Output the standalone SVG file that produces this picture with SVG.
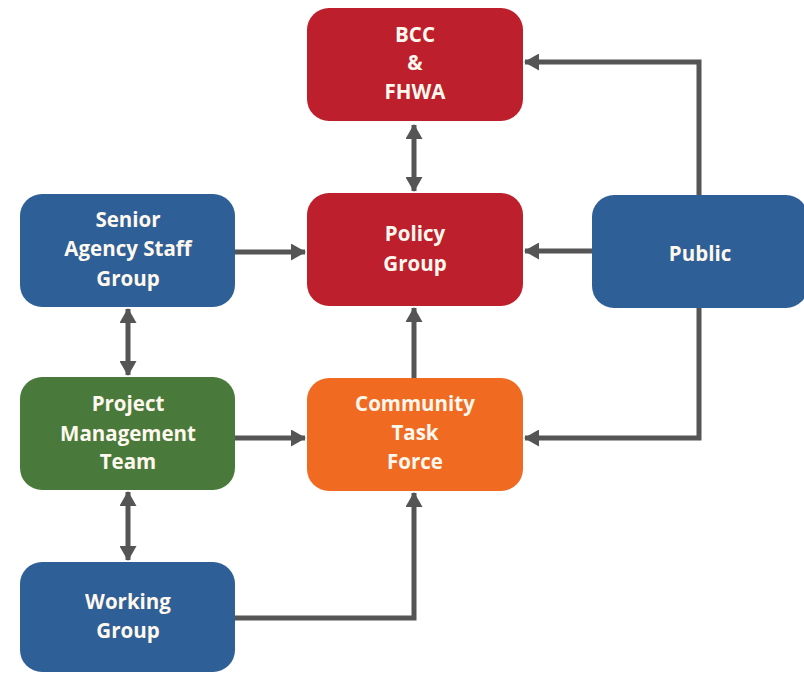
<svg xmlns="http://www.w3.org/2000/svg" width="804" height="673" viewBox="0 0 804 673">
<defs>
<marker id="ah" viewBox="0 0 15 17" refX="14" refY="8.5" markerWidth="15" markerHeight="17" markerUnits="userSpaceOnUse" orient="auto-start-reverse">
<path d="M0,0 L15,8.5 L0,17 z" fill="#555555"/>
</marker>
<style>
.red{fill:#BD1F2D}
.blue{fill:#2F5F97}
.green{fill:#4A7A3B}
.orange{fill:#F06A22}
text{font-family:"Open Sans","Noto Sans",sans-serif;font-weight:700;font-size:20.5px;fill:#FFF8EE;text-anchor:middle}
.c{fill:none;stroke:#555555;stroke-width:5}
</style>
</defs>
<rect width="804" height="673" fill="#FFFFFF"/>
<g id="connectors">
<path class="c" d="M414,125 V191" marker-start="url(#ah)" marker-end="url(#ah)"/>
<path class="c" d="M699,195 V62 H525" marker-end="url(#ah)"/>
<path class="c" d="M592,251 H525" marker-end="url(#ah)"/>
<path class="c" d="M699,308 V438 H525" marker-end="url(#ah)"/>
<path class="c" d="M235,252 H305" marker-end="url(#ah)"/>
<path class="c" d="M128,309 V375" marker-start="url(#ah)" marker-end="url(#ah)"/>
<path class="c" d="M235,438 H305" marker-end="url(#ah)"/>
<path class="c" d="M128,492 V560" marker-start="url(#ah)" marker-end="url(#ah)"/>
<path class="c" d="M414,378 V308" marker-end="url(#ah)"/>
<path class="c" d="M235,618 H414 V493" marker-end="url(#ah)"/>
</g>
<g id="bcc">
<rect class="red" x="307" y="8" width="216" height="113" rx="22"/>
<text x="415" y="42">BCC</text>
<text x="415" y="70">&amp;</text>
<text x="415" y="99">FHWA</text>
</g>
<g id="policy">
<rect class="red" x="307" y="193" width="216" height="113" rx="22"/>
<text x="415" y="241">Policy</text>
<text x="415" y="271">Group</text>
</g>
<g id="senior">
<rect class="blue" x="20" y="194" width="215" height="113" rx="22"/>
<text x="128" y="227">Senior</text>
<text x="128" y="256">Agency Staff</text>
<text x="128" y="286">Group</text>
</g>
<g id="public">
<rect class="blue" x="592" y="195" width="216" height="113" rx="22"/>
<text x="700" y="261">Public</text>
</g>
<g id="pmt">
<rect class="green" x="20" y="377" width="215" height="113" rx="22"/>
<text x="128" y="411">Project</text>
<text x="128" y="441">Management</text>
<text x="128" y="469">Team</text>
</g>
<g id="ctf">
<rect class="orange" x="307" y="378" width="216" height="113" rx="22"/>
<text x="415" y="411">Community</text>
<text x="415" y="440">Task</text>
<text x="415" y="469">Force</text>
</g>
<g id="working">
<rect class="blue" x="20" y="562" width="215" height="110" rx="22"/>
<text x="128" y="609">Working</text>
<text x="128" y="638">Group</text>
</g>
</svg>
